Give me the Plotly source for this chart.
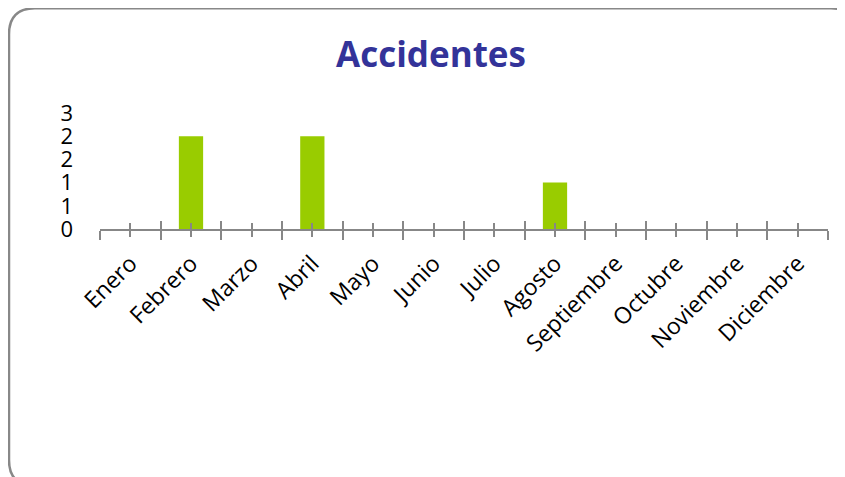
import plotly.graph_objects as go

months = ["Enero", "Febrero", "Marzo", "Abril", "Mayo", "Junio", "Julio",
          "Agosto", "Septiembre", "Octubre", "Noviembre", "Diciembre"]
accidentes = [0, 2, 0, 2, 0, 0, 0, 1, 0, 0, 0, 0]
y_tickvals = [0, 0.5, 1, 1.5, 2, 2.5]
y_ticktext = ["0", "1", "1", "2", "2", "3"]

W, H = 845, 477
ML, MR, MT, MB = 92, 25, 105, 256
PW = W - ML - MR
PH = H - MT - MB

def xp(px):
    return (px - ML) / PW

def yp(py):
    return (H - MB - py) / PH

# rounded border (decoration) in pixels -> paper
x0, y0, x1, y1, r = 1, 0.3, 849, 478, 26
pts = [
    ("M", (x0 + r, y0)), ("L", (x1 - r, y0)), ("Q", (x1, y0), (x1, y0 + r)),
    ("L", (x1, y1 - r)), ("Q", (x1, y1), (x1 - r, y1)),
    ("L", (x0 + r, y1)), ("Q", (x0, y1), (x0, y1 - r)),
    ("L", (x0, y0 + r)), ("Q", (x0, y0), (x0 + r, y0)),
]
path = ""
for item in pts:
    cmd = item[0]
    coords = " ".join(f"{xp(p[0]):.5f},{yp(p[1]):.5f}" for p in item[1:])
    path += f"{cmd} {coords} "
path += "Z"

xs = list(range(len(months)))
bounds = [i - 0.5 for i in range(len(months) + 1)]
axis_col = "#878787"
font_fam = "Open Sans, Noto Sans, sans-serif"

fig = go.Figure()
fig.add_trace(go.Bar(x=xs, y=accidentes, marker=dict(color="#99CC00", line=dict(width=0)),
                     width=0.4, showlegend=False, xaxis="x", yaxis="y"))
fig.add_trace(go.Scatter(x=[xs[0]], y=[None], mode="markers", showlegend=False,
                         hoverinfo="skip", xaxis="x2", yaxis="y"))

fig.update_layout(
    width=W, height=H,
    margin=dict(l=ML, r=MR, t=MT, b=MB, pad=0),
    paper_bgcolor="white", plot_bgcolor="white",
    title=dict(text="<b>Accidentes</b>", x=423 / W, xanchor="center",
               y=1 - 47 / H, yanchor="middle",
               font=dict(family=font_fam, size=35, color="#333399")),
    xaxis=dict(range=[-0.5, 11.5], tickmode="array", tickvals=xs, ticktext=months,
               ticks="outside", ticklen=6, tickwidth=2, tickcolor=axis_col,
               minor=dict(tickmode="array", tickvals=bounds, ticks="outside",
                          ticklen=9, tickwidth=2, tickcolor=axis_col),
               showline=True, linecolor=axis_col, linewidth=2,
               showgrid=False, zeroline=False, tickangle=-45,
               ticklabelstandoff=4,
               tickfont=dict(family=font_fam, size=23, color="black")),
    xaxis2=dict(overlaying="x", anchor="y", side="bottom", range=[-0.5, 11.5],
                tickmode="array", tickvals=xs, ticks="inside", ticklen=6, tickwidth=2,
                tickcolor=axis_col,
                minor=dict(tickmode="array", tickvals=bounds, ticks="inside",
                           ticklen=8, tickwidth=2, tickcolor=axis_col),
                showticklabels=False, showline=False, showgrid=False, zeroline=False),
    yaxis=dict(range=[0, 2.5], tickmode="array", tickvals=y_tickvals, ticktext=y_ticktext,
               showgrid=False, zeroline=False, showline=False, ticks="",
               ticklabelstandoff=26,
               tickfont=dict(family=font_fam, size=22, color="black")),
    shapes=[dict(type="path", xref="paper", yref="paper", path=path,
                 line=dict(color="#888888", width=2.5), fillcolor="rgba(0,0,0,0)",
                 layer="above")],
    bargap=0.6,
)

fig.write_html("out.html")
